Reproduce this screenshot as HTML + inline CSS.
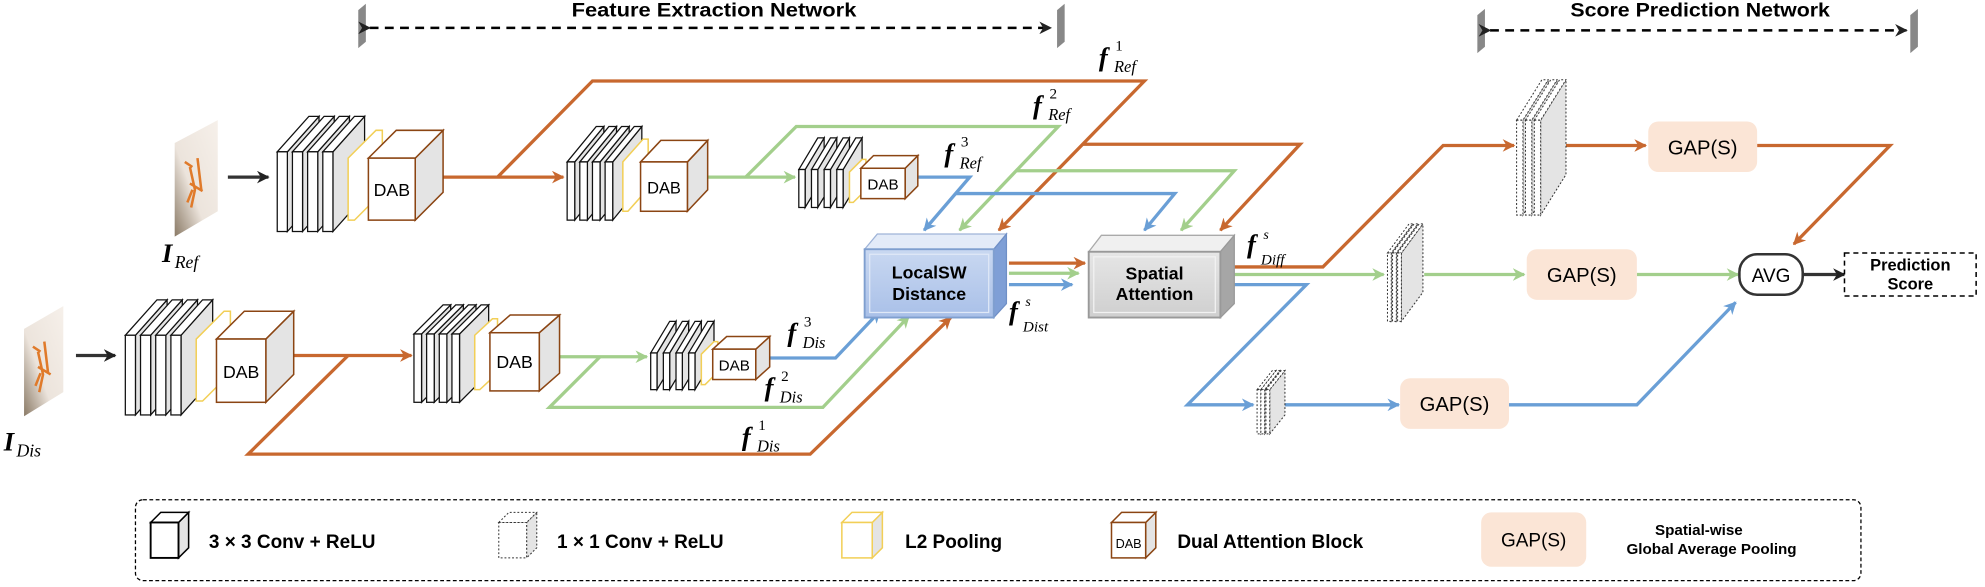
<!DOCTYPE html>
<html><head><meta charset="utf-8"><style>
html,body{margin:0;padding:0;background:#fff;}
svg{display:block;}
.t{font-family:"Liberation Sans",sans-serif;}
.m{font-family:"Liberation Serif",serif;font-style:italic;}
</style></head><body>
<svg width="1985" height="587" viewBox="0 0 1568 464" preserveAspectRatio="none" xmlns="http://www.w3.org/2000/svg">
<defs>
<marker id="ao" markerWidth="10" markerHeight="10" refX="9" refY="5" orient="auto" markerUnits="userSpaceOnUse"><path d="M0,0 L10,5 L0,10 L3,5 z" fill="#c8682f"/></marker>
<marker id="ag" markerWidth="10" markerHeight="10" refX="9" refY="5" orient="auto" markerUnits="userSpaceOnUse"><path d="M0,0 L10,5 L0,10 L3,5 z" fill="#a3cf8c"/></marker>
<marker id="ab" markerWidth="10" markerHeight="10" refX="9" refY="5" orient="auto" markerUnits="userSpaceOnUse"><path d="M0,0 L10,5 L0,10 L3,5 z" fill="#6a9fd6"/></marker>
<marker id="ak" markerWidth="10" markerHeight="10" refX="9" refY="5" orient="auto" markerUnits="userSpaceOnUse"><path d="M0,0 L10,5 L0,10 L3,5 z" fill="#222"/></marker>
<linearGradient id="img" x1="1" y1="0" x2="0" y2="1"><stop offset="0" stop-color="#f6f0ea"/><stop offset="0.6" stop-color="#ece4dc"/><stop offset="1" stop-color="#8a7a66"/></linearGradient>
<linearGradient id="lsw" x1="0" y1="0" x2="0" y2="1"><stop offset="0" stop-color="#c9d8f1"/><stop offset="1" stop-color="#a9c0e8"/></linearGradient>
<linearGradient id="sa" x1="0" y1="0" x2="0" y2="1"><stop offset="0" stop-color="#e6e6e6"/><stop offset="1" stop-color="#cfcfcf"/></linearGradient>
<g id="r1"><path d="M8,0 l25,-28 v63 l-25,28 z" fill="#e4e4e4" stroke="#111" stroke-width="1"/><path d="M0,0 l25,-28 h8 l-25,28 z" fill="#fff" stroke="#111" stroke-width="1"/><rect x="0" y="0" width="8" height="63" fill="#fff" stroke="#111" stroke-width="1"/></g>
<g id="r2"><path d="M6,0 l23,-28 v46 l-23,28 z" fill="#e4e4e4" stroke="#111" stroke-width="1"/><path d="M0,0 l23,-28 h6 l-23,28 z" fill="#fff" stroke="#111" stroke-width="1"/><rect x="0" y="0" width="6" height="46" fill="#fff" stroke="#111" stroke-width="1"/></g>
<g id="r3"><path d="M5,0 l15,-25 v30 l-15,25 z" fill="#e4e4e4" stroke="#111" stroke-width="1"/><path d="M0,0 l15,-25 h5 l-15,25 z" fill="#fff" stroke="#111" stroke-width="1"/><rect x="0" y="0" width="5" height="30" fill="#fff" stroke="#111" stroke-width="1"/></g>
<g id="d2"><path d="M6,0 l23,-23 v54 l-23,23 z" fill="#e4e4e4" stroke="#111" stroke-width="1"/><path d="M0,0 l23,-23 h6 l-23,23 z" fill="#fff" stroke="#111" stroke-width="1"/><rect x="0" y="0" width="6" height="54" fill="#fff" stroke="#111" stroke-width="1"/></g>
<g id="d3"><path d="M5,0 l15,-25 v29 l-15,25 z" fill="#e4e4e4" stroke="#111" stroke-width="1"/><path d="M0,0 l15,-25 h5 l-15,25 z" fill="#fff" stroke="#111" stroke-width="1"/><rect x="0" y="0" width="5" height="29" fill="#fff" stroke="#111" stroke-width="1"/></g>
<g id="s1"><path d="M5,0 l20,-32 v75 l-20,32 z" fill="#e4e4e4" stroke="#333" stroke-width="0.8" stroke-dasharray="1.5 1.5"/><path d="M0,0 l20,-32 h5 l-20,32 z" fill="#fff" stroke="#333" stroke-width="0.8" stroke-dasharray="1.5 1.5"/><rect x="0" y="0" width="5" height="75" fill="#fff" stroke="#333" stroke-width="0.8" stroke-dasharray="1.5 1.5"/></g>
<g id="s2"><path d="M3,0 l17,-23 v54 l-17,23 z" fill="#e4e4e4" stroke="#333" stroke-width="0.8" stroke-dasharray="1.5 1.5"/><path d="M0,0 l17,-23 h3 l-17,23 z" fill="#fff" stroke="#333" stroke-width="0.8" stroke-dasharray="1.5 1.5"/><rect x="0" y="0" width="3" height="54" fill="#fff" stroke="#333" stroke-width="0.8" stroke-dasharray="1.5 1.5"/></g>
<g id="s3"><path d="M3,0 l12,-15 v35 l-12,15 z" fill="#e4e4e4" stroke="#333" stroke-width="0.8" stroke-dasharray="1.5 1.5"/><path d="M0,0 l12,-15 h3 l-12,15 z" fill="#fff" stroke="#333" stroke-width="0.8" stroke-dasharray="1.5 1.5"/><rect x="0" y="0" width="3" height="35" fill="#fff" stroke="#333" stroke-width="0.8" stroke-dasharray="1.5 1.5"/></g>
</defs>

<text class="t" x="564" y="13" font-size="15" font-weight="bold" text-anchor="middle" textLength="225" lengthAdjust="spacingAndGlyphs">Feature Extraction Network</text>
<polygon points="283,8 289,3 289,33 283,38" fill="#888"/>
<polygon points="835,8 841,3 841,33 835,38" fill="#888"/>
<line x1="292" y1="22" x2="830" y2="22" stroke="#000" stroke-width="2" stroke-dasharray="7 5" marker-start="url(#ak)" marker-end="url(#ak)"/>
<text class="t" x="1343" y="13" font-size="15" font-weight="bold" text-anchor="middle" textLength="205" lengthAdjust="spacingAndGlyphs">Score Prediction Network</text>
<polygon points="1167,12 1173,7 1173,37 1167,42" fill="#888"/>
<polygon points="1509,12 1515,7 1515,37 1509,42" fill="#888"/>
<line x1="1177" y1="24" x2="1506" y2="24" stroke="#000" stroke-width="2" stroke-dasharray="7 5" marker-start="url(#ak)" marker-end="url(#ak)"/>

<polygon points="138,113 172,95 172,167 138,187" fill="url(#img)"/>
<path d="M146,128 l6,4 M150,132 l4,18 l-3,14 M156,125 l3,25 M150,145 l10,6 M152,150 l-4,10" stroke="#e07a2a" stroke-width="2" fill="none"/>
<polygon points="19,260 50,242 50,310 19,329" fill="url(#img)"/>
<path d="M26,274 l6,4 M30,278 l4,18 l-3,14 M35,270 l3,25 M30,290 l10,6 M32,295 l-4,10" stroke="#e07a2a" stroke-width="2" fill="none"/>
<text x="128" y="207" class="m" font-size="21" font-weight="bold">I</text><text x="138" y="212" class="m" font-size="14">Ref</text>
<text x="3" y="356" class="m" font-size="21" font-weight="bold">I</text><text x="13" y="361" class="m" font-size="14">Dis</text>

<g fill="none" stroke-width="2.6" stroke-linejoin="miter">
<g stroke="#c8682f">
<path d="M341,140 H445" marker-end="url(#ao)"/>
<path d="M393,140 L468,64 H904 L789,182" marker-end="url(#ao)"/>
<path d="M855,114 H1027 L964,182" marker-end="url(#ao)"/>
<path d="M224,281 H325" marker-end="url(#ao)"/>
<path d="M275,281 L196,359 H640 L751,251" marker-end="url(#ao)"/>
<path d="M797,208 H857" marker-end="url(#ao)"/>
<path d="M974,211 H1045 L1140,115 H1196" marker-end="url(#ao)"/>
<path d="M1235,115 H1300" marker-end="url(#ao)"/>
<path d="M1388,115 H1493 L1417,193" marker-end="url(#ao)"/>
</g>
<g stroke="#a3cf8c">
<path d="M554,140 H628" marker-end="url(#ag)"/>
<path d="M589,140 L629,100 H836 L758,182" marker-end="url(#ag)"/>
<path d="M803,135 H975 L933,182" marker-end="url(#ag)"/>
<path d="M434,282 H511" marker-end="url(#ag)"/>
<path d="M474,282 L434,322 H650 L718,250" marker-end="url(#ag)"/>
<path d="M797,216 H852" marker-end="url(#ag)"/>
<path d="M969,217 H1093" marker-end="url(#ag)"/>
<path d="M1125,217 H1204" marker-end="url(#ag)"/>
<path d="M1293,217 H1373" marker-end="url(#ag)"/>
</g>
<g stroke="#6a9fd6">
<path d="M720,140 H766 L730,182" marker-end="url(#ab)"/>
<path d="M755,153 H928 L904,182" marker-end="url(#ab)"/>
<path d="M605,283 H660 L695,246" marker-end="url(#ab)"/>
<path d="M797,225 H847" marker-end="url(#ab)"/>
<path d="M969,225 H1032 L938,320 H990" marker-end="url(#ab)"/>
<path d="M1011,320 H1105" marker-end="url(#ab)"/>
<path d="M1192,320 H1293 L1371,239" marker-end="url(#ab)"/>
</g>
<g stroke="#333">
<path d="M180,140 H212" marker-end="url(#ak)"/>
<path d="M60,281 H91" marker-end="url(#ak)"/>
<path d="M1424,217 H1457" marker-end="url(#ak)"/>
</g>
</g>

<use href="#r1" x="219" y="120"/><use href="#r1" x="231" y="120"/><use href="#r1" x="243" y="120"/><use href="#r1" x="255" y="120"/>
<path d="M275,125 l22,-22 h5 v49 l-22,22 h-5 z" fill="#fff" stroke="#f2cf57" stroke-width="1.2"/>
<path d="M328,125 l22,-22 v49 l-22,22 z" fill="#e4e4e4" stroke="#8b4513" stroke-width="1.2"/>
<path d="M291,125 l22,-22 h37 l-22,22 z" fill="#fff" stroke="#8b4513" stroke-width="1.2"/>
<rect x="291" y="125" width="37" height="49" fill="#fff" stroke="#8b4513" stroke-width="1.2"/>
<text class="t" x="309.5" y="155" font-size="14" text-anchor="middle">DAB</text>

<use href="#r2" x="448" y="128"/><use href="#r2" x="458" y="128"/><use href="#r2" x="468" y="128"/><use href="#r2" x="478" y="128"/>
<path d="M492,128 l16,-18 h4 v39 l-16,18 h-4 z" fill="#fff" stroke="#f2cf57" stroke-width="1.2"/>
<path d="M543,128 l16,-17 v39 l-16,17 z" fill="#e4e4e4" stroke="#8b4513" stroke-width="1.2"/>
<path d="M506,128 l16,-17 h37 l-16,17 z" fill="#fff" stroke="#8b4513" stroke-width="1.2"/>
<rect x="506" y="128" width="37" height="39" fill="#fff" stroke="#8b4513" stroke-width="1.2"/>
<text class="t" x="524.5" y="153" font-size="13" text-anchor="middle">DAB</text>

<use href="#r3" x="631" y="134"/><use href="#r3" x="641" y="134"/><use href="#r3" x="651" y="134"/><use href="#r3" x="661" y="134"/>
<path d="M671,136 l10,-10 h3 v24 l-10,10 h-3 z" fill="#fff" stroke="#f2cf57" stroke-width="1.2"/>
<path d="M715,133 l10,-10 v24 l-10,10 z" fill="#e4e4e4" stroke="#8b4513" stroke-width="1.2"/>
<path d="M680,133 l10,-10 h35 l-10,10 z" fill="#fff" stroke="#8b4513" stroke-width="1.2"/>
<rect x="680" y="133" width="35" height="24" fill="#fff" stroke="#8b4513" stroke-width="1.2"/>
<text class="t" x="697.5" y="150" font-size="12" text-anchor="middle">DAB</text>

<use href="#r1" x="99" y="265"/><use href="#r1" x="111" y="265"/><use href="#r1" x="123" y="265"/><use href="#r1" x="135" y="265"/>
<path d="M155,268 l22,-22 h5 v49 l-22,22 h-5 z" fill="#fff" stroke="#f2cf57" stroke-width="1.2"/>
<path d="M210,268 l22,-22 v50 l-22,22 z" fill="#e4e4e4" stroke="#8b4513" stroke-width="1.2"/>
<path d="M171,268 l22,-22 h39 l-22,22 z" fill="#fff" stroke="#8b4513" stroke-width="1.2"/>
<rect x="171" y="268" width="39" height="50" fill="#fff" stroke="#8b4513" stroke-width="1.2"/>
<text class="t" x="190.5" y="299" font-size="14" text-anchor="middle">DAB</text>

<use href="#d2" x="327" y="264"/><use href="#d2" x="337" y="264"/><use href="#d2" x="347" y="264"/><use href="#d2" x="357" y="264"/>
<path d="M375,265 l14,-13 h4 v43 l-14,13 h-4 z" fill="#fff" stroke="#f2cf57" stroke-width="1.2"/>
<path d="M426,263 l16,-14 v46 l-16,14 z" fill="#e4e4e4" stroke="#8b4513" stroke-width="1.2"/>
<path d="M387,263 l16,-14 h39 l-16,14 z" fill="#fff" stroke="#8b4513" stroke-width="1.2"/>
<rect x="387" y="263" width="39" height="46" fill="#fff" stroke="#8b4513" stroke-width="1.2"/>
<text class="t" x="406.5" y="291" font-size="14" text-anchor="middle">DAB</text>

<use href="#d3" x="514" y="279"/><use href="#d3" x="524" y="279"/><use href="#d3" x="534" y="279"/><use href="#d3" x="544" y="279"/>
<path d="M554,280 l10,-10 h3 v24 l-10,10 h-3 z" fill="#fff" stroke="#f2cf57" stroke-width="1.2"/>
<path d="M597,276 l11,-10 v24 l-11,10 z" fill="#e4e4e4" stroke="#8b4513" stroke-width="1.2"/>
<path d="M563,276 l11,-10 h34 l-11,10 z" fill="#fff" stroke="#8b4513" stroke-width="1.2"/>
<rect x="563" y="276" width="34" height="24" fill="#fff" stroke="#8b4513" stroke-width="1.2"/>
<text class="t" x="580" y="293" font-size="12" text-anchor="middle">DAB</text>

<polygon points="683,197 693,185 795,185 785,197" fill="#e3ebf8" stroke="#9fb4d8" stroke-width="1"/>
<polygon points="785,197 795,185 795,240 785,251" fill="#7f9fd6" stroke="#6f8fc6" stroke-width="1"/>
<rect x="683" y="197" width="102" height="54" fill="url(#lsw)" stroke="#7f9fcf" stroke-width="1.5"/>
<rect x="687" y="201" width="94" height="46" fill="none" stroke="#dfe8f7" stroke-width="1"/>
<text class="t" x="734" y="220" font-size="14" font-weight="bold" text-anchor="middle">LocalSW</text>
<text class="t" x="734" y="237" font-size="14" font-weight="bold" text-anchor="middle">Distance</text>
<polygon points="860,199 870,186 975,186 964,199" fill="#f0f0f0" stroke="#aaa" stroke-width="1"/>
<polygon points="964,199 975,186 975,240 964,251" fill="#a6a6a6" stroke="#999" stroke-width="1"/>
<rect x="860" y="199" width="104" height="52" fill="url(#sa)" stroke="#999" stroke-width="1.5"/>
<rect x="864" y="203" width="96" height="44" fill="none" stroke="#f2f2f2" stroke-width="1"/>
<text class="t" x="912" y="221" font-size="14" font-weight="bold" text-anchor="middle">Spatial</text>
<text class="t" x="912" y="237" font-size="14" font-weight="bold" text-anchor="middle">Attention</text>

<use href="#s1" x="1198" y="95"/><use href="#s1" x="1205" y="95"/><use href="#s1" x="1212" y="95"/>
<use href="#s2" x="1096" y="200"/><use href="#s2" x="1100" y="200"/><use href="#s2" x="1104" y="200"/>
<use href="#s3" x="993" y="308"/><use href="#s3" x="996" y="308"/><use href="#s3" x="1000" y="308"/>

<rect x="1302" y="96" width="86" height="40" rx="8" fill="#fbe5d6"/>
<text class="t" x="1345" y="122" font-size="16" text-anchor="middle">GAP(S)</text>
<rect x="1206" y="197" width="87" height="40" rx="8" fill="#fbe5d6"/>
<text class="t" x="1249.5" y="223" font-size="16" text-anchor="middle">GAP(S)</text>
<rect x="1106" y="299" width="86" height="40" rx="8" fill="#fbe5d6"/>
<text class="t" x="1149" y="325" font-size="16" text-anchor="middle">GAP(S)</text>
<rect x="1374" y="201" width="50" height="32" rx="14" fill="#fff" stroke="#333" stroke-width="2"/>
<text class="t" x="1399" y="223" font-size="15" text-anchor="middle">AVG</text>
<rect x="1457" y="200" width="104" height="34" fill="#fff" stroke="#000" stroke-width="1.2" stroke-dasharray="4 3"/>
<text class="t" x="1509" y="214" font-size="13" font-weight="bold" text-anchor="middle">Prediction</text>
<text class="t" x="1509" y="229" font-size="13" font-weight="bold" text-anchor="middle">Score</text>

<g class="m">
<text x="868" y="52" font-size="21" font-weight="bold">f</text><text x="881" y="40" font-size="12" font-style="normal">1</text><text x="880" y="57" font-size="13">Ref</text>
<text x="816" y="90" font-size="21" font-weight="bold">f</text><text x="829" y="78" font-size="12" font-style="normal">2</text><text x="828" y="95" font-size="13">Ref</text>
<text x="746" y="128" font-size="21" font-weight="bold">f</text><text x="759" y="116" font-size="12" font-style="normal">3</text><text x="758" y="133" font-size="13">Ref</text>
<text x="622" y="270" font-size="21" font-weight="bold">f</text><text x="635" y="258" font-size="12" font-style="normal">3</text><text x="634" y="275" font-size="13">Dis</text>
<text x="604" y="313" font-size="21" font-weight="bold">f</text><text x="617" y="301" font-size="12" font-style="normal">2</text><text x="616" y="318" font-size="13">Dis</text>
<text x="586" y="352" font-size="21" font-weight="bold">f</text><text x="599" y="340" font-size="12" font-style="normal">1</text><text x="598" y="357" font-size="13">Dis</text>
<text x="797" y="253" font-size="21" font-weight="bold">f</text><text x="810" y="242" font-size="11">s</text><text x="808" y="262" font-size="12">Dist</text>
<text x="985" y="200" font-size="21" font-weight="bold">f</text><text x="998" y="189" font-size="11">s</text><text x="996" y="209" font-size="12">Diff</text>
</g>

<rect x="107" y="395" width="1363" height="64" rx="6" fill="none" stroke="#000" stroke-width="1" stroke-dasharray="3 2"/>
<path d="M141,413 l8,-8 v28 l-8,8 z" fill="#e4e4e4" stroke="#000" stroke-width="1.2"/>
<path d="M119,413 l8,-8 h22 l-8,8 z" fill="#fff" stroke="#000" stroke-width="1.2"/>
<rect x="119" y="413" width="22" height="28" fill="#fff" stroke="#000" stroke-width="1.5"/>
<text class="t" x="165" y="433" font-size="15" font-weight="bold">3 × 3 Conv + ReLU</text>
<path d="M416,413 l8,-8 v28 l-8,8 z" fill="#e4e4e4" stroke="#333" stroke-width="0.8" stroke-dasharray="1.5 1.5"/>
<path d="M394,413 l8,-8 h22 l-8,8 z" fill="#fff" stroke="#333" stroke-width="0.8" stroke-dasharray="1.5 1.5"/>
<rect x="394" y="413" width="22" height="28" fill="#fff" stroke="#333" stroke-width="0.8" stroke-dasharray="1.5 1.5"/>
<text class="t" x="440" y="433" font-size="15" font-weight="bold">1 × 1 Conv + ReLU</text>
<path d="M689,413 l8,-8 v28 l-8,8 z" fill="#e4e4e4" stroke="#f2cf57" stroke-width="1.2"/>
<path d="M665,413 l8,-8 h24 l-8,8 z" fill="#fff" stroke="#f2cf57" stroke-width="1.2"/>
<rect x="665" y="413" width="24" height="28" fill="#fff" stroke="#f2cf57" stroke-width="1.2"/>
<text class="t" x="715" y="433" font-size="15" font-weight="bold">L2 Pooling</text>
<path d="M905,413 l8,-8 v28 l-8,8 z" fill="#e4e4e4" stroke="#8b4513" stroke-width="1.2"/>
<path d="M878,413 l8,-8 h27 l-8,8 z" fill="#fff" stroke="#8b4513" stroke-width="1.2"/>
<rect x="878" y="413" width="27" height="28" fill="#fff" stroke="#8b4513" stroke-width="1.2"/>
<text class="t" x="891.5" y="433" font-size="10" text-anchor="middle">DAB</text>
<text class="t" x="930" y="433" font-size="15" font-weight="bold">Dual Attention Block</text>
<rect x="1170" y="405" width="83" height="43" rx="8" fill="#fbe5d6"/>
<text class="t" x="1211.5" y="432" font-size="15" text-anchor="middle">GAP(S)</text>
<text class="t" x="1342" y="423" font-size="12" font-weight="bold" text-anchor="middle">Spatial-wise</text>
<text class="t" x="1352" y="438" font-size="12" font-weight="bold" text-anchor="middle">Global Average Pooling</text>
</svg>
</body></html>
